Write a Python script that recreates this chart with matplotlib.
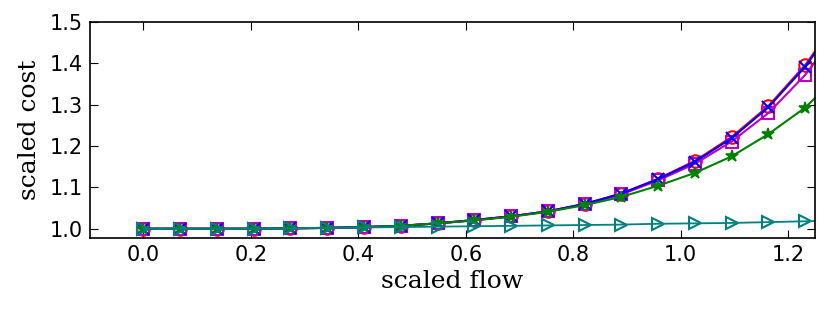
import numpy as np
import matplotlib
matplotlib.use("Agg")
import matplotlib.pyplot as plt

# scaled flow values (20 points, last one lies beyond the x-limit)
flow = [0.0, 0.0684, 0.1368, 0.2053, 0.2737, 0.3421, 0.4105, 0.4789, 0.5474, 0.6158,
        0.6842, 0.7526, 0.8211, 0.8895, 0.9579, 1.0263, 1.0947, 1.1632, 1.2316, 1.3]

cost_circle = [1.0, 1.0, 1.0, 1.0, 1.001, 1.002, 1.004, 1.007, 1.013, 1.021,
               1.030, 1.042, 1.060, 1.085, 1.121, 1.164, 1.222, 1.297, 1.396, 1.52]
cost_x = [1.0, 1.0, 1.0, 1.0, 1.001, 1.002, 1.004, 1.007, 1.013, 1.021,
          1.030, 1.042, 1.060, 1.085, 1.120, 1.162, 1.219, 1.294, 1.392, 1.515]
cost_square = [1.0, 1.0, 1.0, 1.0, 1.001, 1.002, 1.004, 1.007, 1.013, 1.021,
               1.030, 1.042, 1.059, 1.083, 1.117, 1.157, 1.211, 1.280, 1.372, 1.49]
cost_star = [1.0, 1.0, 1.0, 1.0, 1.001, 1.002, 1.004, 1.007, 1.013, 1.020,
             1.029, 1.041, 1.057, 1.077, 1.104, 1.135, 1.175, 1.229, 1.293, 1.38]
cost_tri = [1.0, 1.0, 1.0, 1.0, 1.001, 1.002, 1.003, 1.004, 1.005, 1.006,
            1.007, 1.008, 1.009, 1.010, 1.012, 1.013, 1.014, 1.016, 1.018, 1.020]

fig = plt.figure(figsize=(8.3, 3.15), dpi=100)
ax = fig.add_axes([0.108, 0.245, 0.874, 0.685])

ax.plot(flow, cost_circle, color='r', marker='o', mfc='none', mec='r', ms=9, mew=1.5, lw=1.5)
ax.plot(flow, cost_square, color='m', marker='s', mfc='none', mec='m', ms=9, mew=1.5, lw=1.5)
ax.plot(flow, cost_x, color='b', marker='x', ms=9, mew=1.5, lw=1.5)
ax.plot(flow, cost_star, color='g', marker='*', mfc='g', mec='g', ms=9, mew=1.2, lw=1.5)
ax.plot(flow, cost_tri, color='#008080', marker='>', mfc='none', mec='#008080', ms=9, mew=1.5, lw=1.3)

ax.set_xlim(-0.1, 1.25)
ax.set_ylim(0.978, 1.5)
ax.set_xticks([0.0, 0.2, 0.4, 0.6, 0.8, 1.0, 1.2])
ax.set_yticks([1.0, 1.1, 1.2, 1.3, 1.4, 1.5])
ax.tick_params(direction='in', top=True, right=True, labelsize=15, length=6, pad=5)
for s in ax.spines.values():
    s.set_linewidth(1.2)

ax.set_xlabel('scaled flow', family='DejaVu Serif', fontsize=18, labelpad=4)
ax.set_ylabel('scaled cost', family='DejaVu Serif', fontsize=18, labelpad=6)

fig.savefig('out.png', dpi=100)
